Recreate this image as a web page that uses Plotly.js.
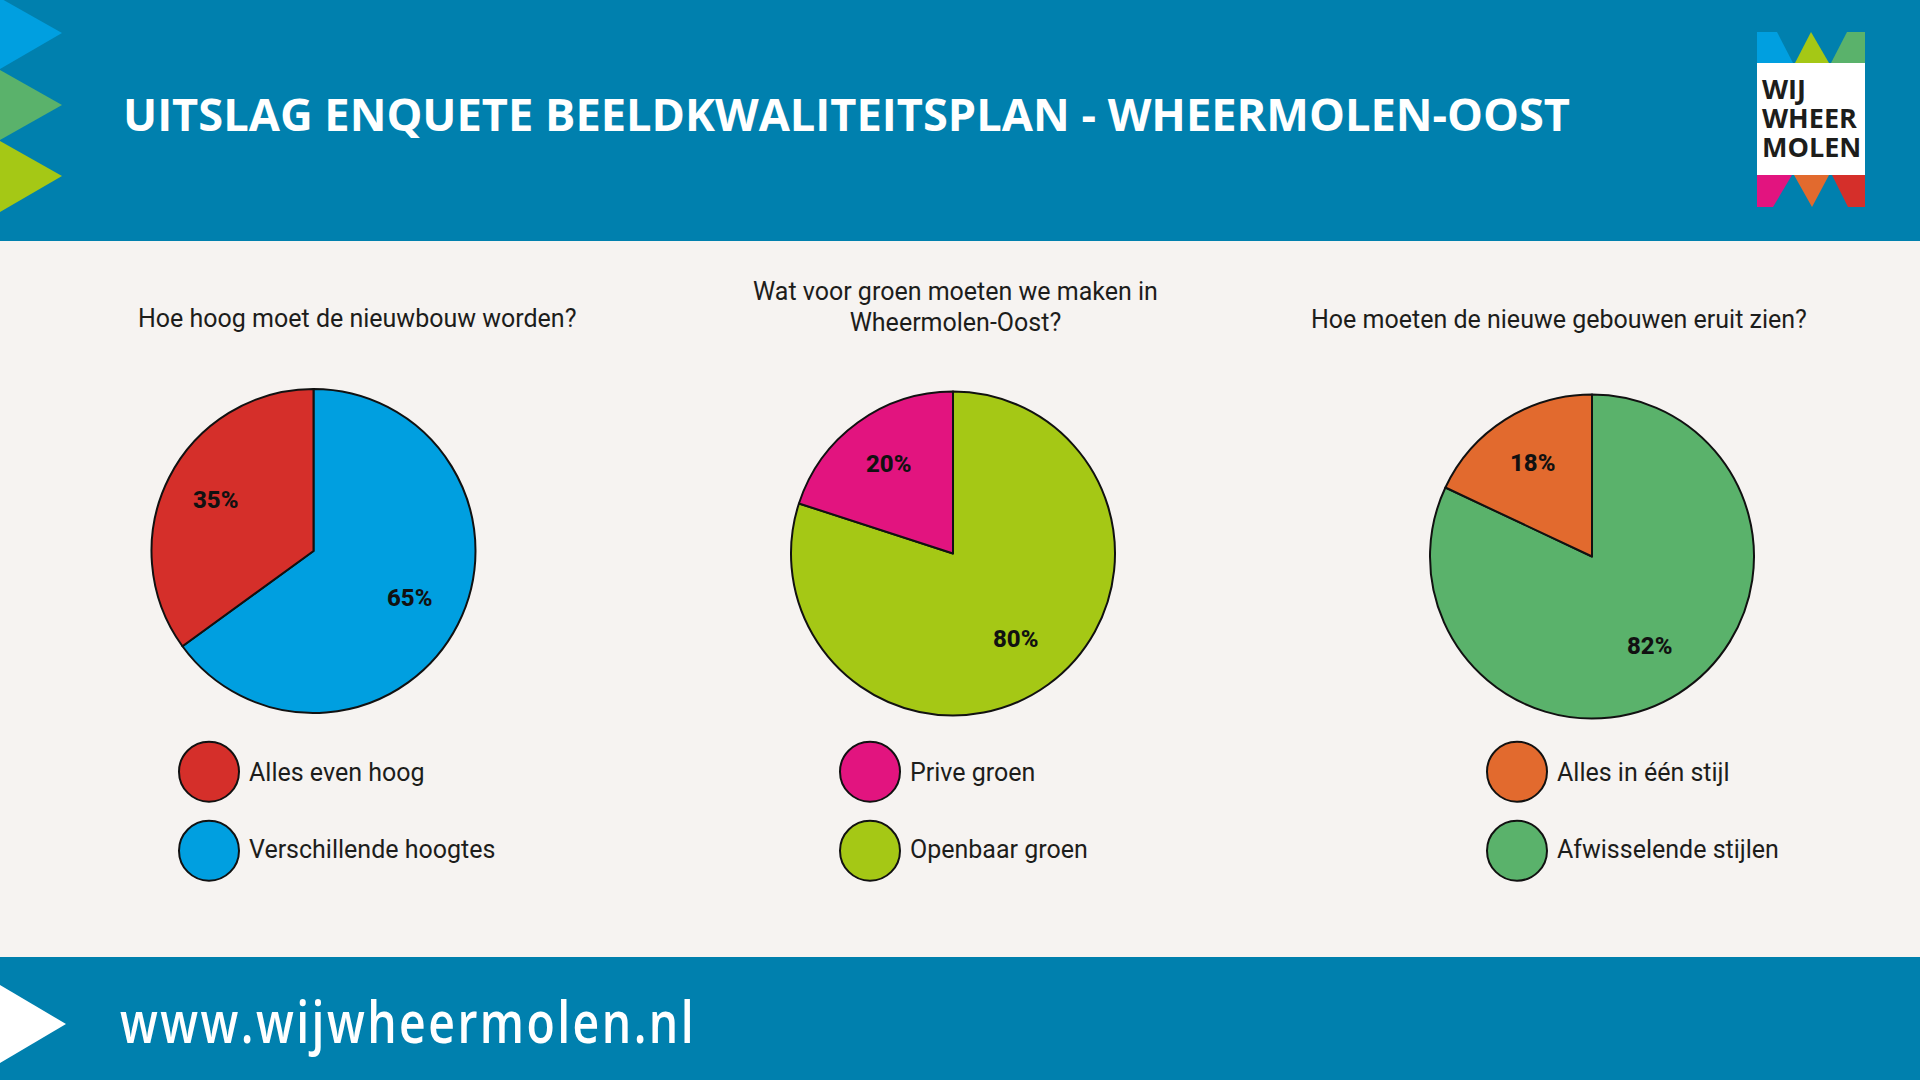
<!DOCTYPE html>
<html><head><meta charset="utf-8">
<script src="https://cdn.plot.ly/plotly-3.0.1.min.js"></script>
<style>html,body{margin:0;padding:0;background:#f6f3f1}#c{width:1920px;height:1080px}</style></head>
<body><div id="c"></div>
<script>
const mainTitle = "UITSLAG ENQUETE BEELDKWALITEITSPLAN - WHEERMOLEN-OOST";
const footerText = "www.wijwheermolen.nl";
const logoText = "WIJ<br>WHEER<br>MOLEN";
const questions = ["Hoe hoog moet de nieuwbouw worden?", "Wat voor groen moeten we maken in<br>Wheermolen-Oost?", "Hoe moeten de nieuwe gebouwen eruit zien?"];
const labels1 = ["Verschillende hoogtes", "Alles even hoog"];
const values1 = [65, 35];
const colors1 = ["#009fe0", "#d52f2a"];
const labels2 = ["Openbaar groen", "Prive groen"];
const values2 = [80, 20];
const colors2 = ["#a5c815", "#e2147f"];
const labels3 = ["Afwisselende stijlen", "Alles in één stijl"];
const values3 = [82, 18];
const colors3 = ["#5ab26b", "#e26a2e"];

const W = 1920, H = 1080, R = 162;
const px = x => x / W, py = y => 1 - y / H;
const body = "Roboto, Lato, sans-serif";
const head = "'Open Sans', sans-serif";
const centers = [[313.5, 551], [953, 553.5], [1592, 556.5]];
const sets = [[labels1, values1, colors1], [labels2, values2, colors2], [labels3, values3, colors3]];

const traces = sets.map((s, i) => ({
  type: "pie", labels: s[0], values: s[1], sort: false, direction: "clockwise", rotation: 0,
  marker: {colors: s[2], line: {color: "#111111", width: 2}},
  textinfo: "none",
  domain: {x: [px(centers[i][0] - R), px(centers[i][0] + R)], y: [py(centers[i][1] + R), py(centers[i][1] - R)]},
  showlegend: false, hoverinfo: "label+percent"
}));

const poly = (pts, color) => ({type: "path", xref: "paper", yref: "paper", layer: "below", line: {width: 0}, fillcolor: color,
  path: "M" + pts.map(p => px(p[0]) + "," + py(p[1])).join("L") + "Z"});
const rect = (x0, y0, x1, y1, color) => ({type: "rect", xref: "paper", yref: "paper", layer: "below", line: {width: 0}, fillcolor: color,
  x0: px(x0), x1: px(x1), y0: py(y1), y1: py(y0)});
const circle = (cx, cy, r, color) => ({type: "circle", xref: "paper", yref: "paper", layer: "below", line: {color: "#111111", width: 2}, fillcolor: color,
  x0: px(cx - r), x1: px(cx + r), y0: py(cy + r), y1: py(cy - r)});
const text = (t, x, y, size, color, family, anchor, extra, weight) => Object.assign({text: t, xref: "paper", yref: "paper", x: px(x), y: py(y),
  xanchor: anchor || "left", yanchor: "middle", showarrow: false, font: {family: family || body, size: size, color: color, weight: weight || 400}}, extra || {});

const shapes = [
  rect(0, 0, W, 241, "#0080ae"), rect(0, 957, W, H, "#0080ae"),
  poly([[0, -2], [62, 33], [0, 69]], "#009fe0"), poly([[0, 70], [62, 105], [0, 140]], "#5ab26b"), poly([[0, 141], [62, 176], [0, 212]], "#a5c815"),
  poly([[0, 985], [66, 1024], [0, 1063]], "#ffffff"),
  rect(1757, 63, 1865, 175, "#ffffff"),
  poly([[1757, 32], [1777, 32], [1793, 63], [1757, 63]], "#009fe0"),
  poly([[1811, 32], [1795, 63], [1829, 63]], "#a5c815"),
  poly([[1847, 32], [1865, 32], [1865, 63], [1831, 63]], "#5ab26b"),
  poly([[1757, 175], [1792, 175], [1773, 207], [1757, 207]], "#e2147f"),
  poly([[1794, 175], [1829, 175], [1812, 207]], "#e26a2e"),
  poly([[1832, 175], [1865, 175], [1865, 207], [1848, 207]], "#d52f2a")
];
const legendX = [209, 870, 1517], legendTextX = [246.5, 908, 1555], legendY = [771.7, 850.7], legendTextY = [772, 849];
const annotations = [
  text(mainTitle, 120.5, 114, 45.2, "#ffffff", head, "left", {}, 700),
  text(footerText, 408, 1021, 57, "#ffffff", head, "center", {}, 600),
  text(logoText, 1760, 123, 27, "#1d1d1b", head, "left", {align: "left"}, 700),
  text(questions[0], 357, 318, 25, "#1d1d1b", body, "center"),
  text(questions[1], 955.5, 308.5, 25, "#1d1d1b", body, "center", {align: "center"}),
  text(questions[2], 1559, 319, 25, "#1d1d1b", body, "center")
];
sets.forEach((s, i) => {
  [1, 0].forEach((k, row) => {
    shapes.push(circle(legendX[i], legendY[row], 30, s[2][k]));
    annotations.push(text(s[0][k], legendTextX[i], legendTextY[row], 25, "#1d1d1b"));
  });
  // percentage labels sit on each slice's mid-angle
  const total = s[1].reduce((a, b) => a + b, 0);
  let acc = 0;
  s[1].forEach(v => {
    const theta = (acc + v / 2) / total * 2 * Math.PI;
    acc += v;
    annotations.push(text(Math.round(v / total * 100) + "%",
      centers[i][0] + 0.67 * R * Math.sin(theta) - 1, centers[i][1] - 0.67 * R * Math.cos(theta) - 2,
      24, "#111111", body, "center", {}, 800));
  });
});

Plotly.newPlot("c", traces, {
  width: W, height: H, margin: {l: 0, r: 0, t: 0, b: 0}, paper_bgcolor: "#f6f3f1",
  shapes: shapes, annotations: annotations, showlegend: false
}, {displayModeBar: false, staticPlot: true}).then(() => {
  document.querySelectorAll(".annotation-text").forEach(t => {
    if (t.textContent === footerText) {
      t.style.letterSpacing = "3px";
      t.setAttribute("textLength", "576");
      t.setAttribute("lengthAdjust", "spacingAndGlyphs");
    }
    if (t.textContent.startsWith("WIJ")) {
      t.querySelectorAll("tspan.line").forEach((l, i) => l.setAttribute("dy", (i * 1.07) + "em"));
    }
    if (t.textContent.startsWith("Wat voor")) {
      t.querySelectorAll("tspan.line").forEach((l, i) => l.setAttribute("dy", (i * 1.22) + "em"));
    }
  });
});
</script></body></html>
